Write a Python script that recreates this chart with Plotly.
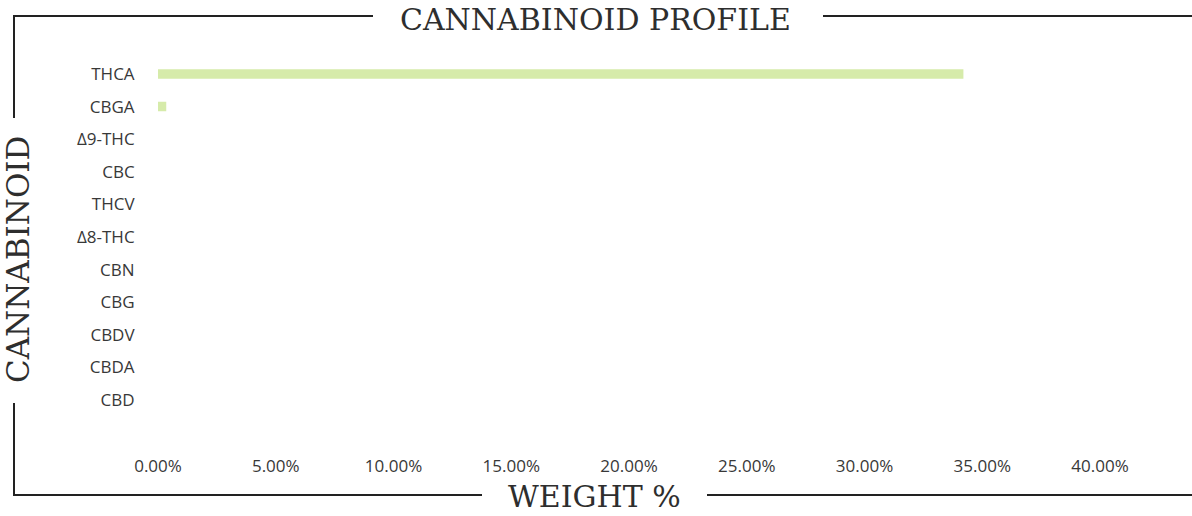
import plotly.graph_objects as go

W, H = 1192, 516

cannabinoids = ["THCA", "CBGA", "Δ9-THC", "CBC", "THCV", "Δ8-THC", "CBN", "CBG", "CBDV", "CBDA", "CBD"]
weight_pct = [34.2, 0.35, 0, 0, 0, 0, 0, 0, 0, 0, 0]
tick_vals = [0, 5, 10, 15, 20, 25, 30, 35, 40]
tick_text = ["0.00%", "5.00%", "10.00%", "15.00%", "20.00%", "25.00%", "30.00%", "35.00%", "40.00%"]

def px(x):
    return x / W

def py(y):
    return 1 - y / H

fig = go.Figure(go.Bar(
    x=weight_pct, y=cannabinoids, orientation="h",
    marker=dict(color="#d6ebaa", line=dict(width=0)),
    width=0.29,
))

tick_font = dict(family="Open Sans", size=17, color="#383838")
serif = dict(family="DejaVu Serif", size=30, color="#2e2e2e")

fig.update_layout(
    width=W, height=H,
    margin=dict(l=0, r=0, t=0, b=0, autoexpand=False),
    paper_bgcolor="white", plot_bgcolor="white",
    showlegend=False,
    xaxis=dict(
        domain=[px(158), px(1100)], range=[0, 40],
        tickvals=tick_vals, ticktext=tick_text,
        showgrid=False, zeroline=False, showline=False,
        ticks="outside", ticklen=34, tickcolor="rgba(0,0,0,0)",
        tickfont=tick_font, automargin=False,
    ),
    yaxis=dict(
        domain=[py(416.3), py(57.7)],
        type="category", categoryorder="array", categoryarray=cannabinoids,
        range=[10.5, -0.5],
        showgrid=False, zeroline=False, showline=False,
        ticks="outside", ticklen=19, tickcolor="rgba(0,0,0,0)",
        tickfont=tick_font, automargin=False,
    ),
    annotations=[
        dict(text="CANNABINOID PROFILE", x=px(595), y=py(20), xref="paper", yref="paper",
             xanchor="center", yanchor="middle", showarrow=False, font=serif),
        dict(text="WEIGHT %", x=px(594), y=py(496), xref="paper", yref="paper",
             xanchor="center", yanchor="middle", showarrow=False, font=serif),
        dict(text="CANNABINOID", x=px(18), y=py(260), xref="paper", yref="paper",
             xanchor="center", yanchor="middle", textangle=-90, showarrow=False,
             font=dict(family="DejaVu Serif", size=31, color="#2e2e2e")),
    ],
    shapes=[
        dict(type="line", xref="paper", yref="paper", x0=px(13), x1=px(373), y0=py(16), y1=py(16),
             line=dict(color="#222222", width=2)),
        dict(type="line", xref="paper", yref="paper", x0=px(823), x1=px(1192), y0=py(16), y1=py(16),
             line=dict(color="#222222", width=2)),
        dict(type="line", xref="paper", yref="paper", x0=px(14), x1=px(14), y0=py(15), y1=py(118),
             line=dict(color="#222222", width=2)),
        dict(type="line", xref="paper", yref="paper", x0=px(14), x1=px(14), y0=py(403), y1=py(496),
             line=dict(color="#222222", width=2)),
        dict(type="line", xref="paper", yref="paper", x0=px(13), x1=px(482), y0=py(495), y1=py(495),
             line=dict(color="#222222", width=2)),
        dict(type="line", xref="paper", yref="paper", x0=px(707), x1=px(1192), y0=py(495), y1=py(495),
             line=dict(color="#222222", width=2)),
    ],
)

fig.write_html("out.html", config={"displayModeBar": False},
               post_script="document.body.style.margin='0';document.body.style.padding='0';")
